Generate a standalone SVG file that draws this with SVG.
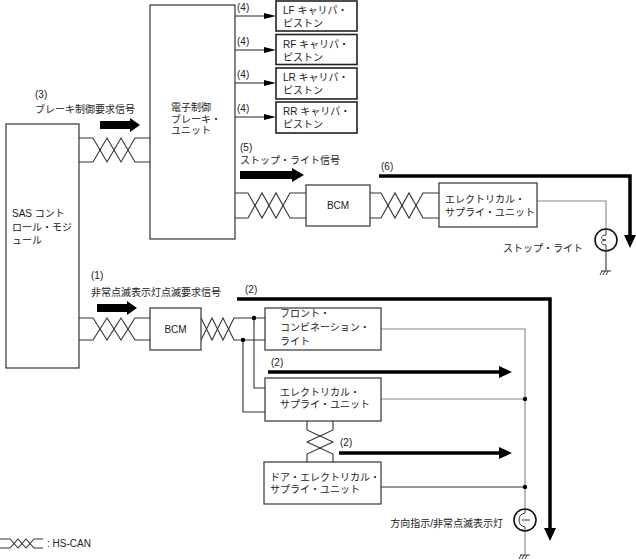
<svg xmlns="http://www.w3.org/2000/svg" width="636" height="560" viewBox="0 0 636 560">
<defs>
<style>
text{font-family:"Liberation Sans","Noto Sans CJK JP",sans-serif;font-size:10px;fill:#222}
.box{fill:#fff;stroke:#333;stroke-width:1.2}
.cal{fill:#fff;stroke:#222;stroke-width:1.6}
.w{fill:none;stroke:#333;stroke-width:1.1}
.g{fill:none;stroke:#888;stroke-width:1.1}
.thin{fill:none;stroke:#222;stroke-width:1.2}
.thick{fill:none;stroke:#000;stroke-width:3.5}
.fat{fill:#000}
.dot{fill:#000}
.mid{text-anchor:middle}
.end{text-anchor:end}
</style>
<marker id="ah" markerUnits="userSpaceOnUse" markerWidth="12" markerHeight="6" refX="6" refY="3" orient="auto">
<path d="M0,0 L12,3 L0,6 z" fill="#000"/>
</marker>
<marker id="bh" markerUnits="userSpaceOnUse" markerWidth="13" markerHeight="12" refX="6" refY="6" orient="auto">
<path d="M0,0 L13,6 L0,12 z" fill="#000"/>
</marker>
</defs>
<rect width="636" height="560" fill="#fff"/>

<g id="connectors">
<!-- HS-CAN pair SAS - EBU -->
<polyline class="w" points="79,138 93,138 107,162 121,138 135,162 150,162"/>
<polyline class="w" points="79,162 93,162 107,138 121,162 135,138 150,138"/>
<!-- EBU - BCM upper -->
<polyline class="w" points="235,193 248,193 262,218 276,193 290,218 306,218"/>
<polyline class="w" points="235,218 248,218 262,193 276,218 290,193 306,193"/>
<!-- BCM upper - ESU upper -->
<polyline class="w" points="370,193 381,193 395,218 409,193 423,218 439,218"/>
<polyline class="w" points="370,218 381,218 395,193 409,218 423,193 439,193"/>
<!-- SAS - BCM lower -->
<polyline class="w" points="79,318 93,318 107,340 121,318 135,340 150,340"/>
<polyline class="w" points="79,340 93,340 107,318 121,340 135,318 150,318"/>
<!-- BCM lower - FCL -->
<polyline class="w" points="201,318 212,340 223,318 234,340 265,340"/>
<polyline class="w" points="201,340 212,318 223,340 234,318 265,318"/>
<!-- branches -->
<polyline class="w" points="254,318 254,388 265,388"/>
<polyline class="w" points="243,340 243,412 265,412"/>
<circle class="dot" cx="254" cy="318" r="2.2"/>
<circle class="dot" cx="243" cy="340" r="2.2"/>
<!-- vertical pair ESU - Door ESU -->
<polyline class="w" points="307,421 307,430 333,442 307,454 307,462"/>
<polyline class="w" points="333,421 333,430 307,442 333,454 333,462"/>
<!-- EBU to calipers -->
<line class="thin" x1="235" y1="16" x2="270" y2="16" marker-end="url(#ah)"/>
<line class="thin" x1="235" y1="50" x2="270" y2="50" marker-end="url(#ah)"/>
<line class="thin" x1="235" y1="83" x2="270" y2="83" marker-end="url(#ah)"/>
<line class="thin" x1="235" y1="117" x2="270" y2="117" marker-end="url(#ah)"/>
<!-- stop light wiring -->
<polyline class="g" points="537,201 606,201 606,229"/>
<line class="w" x1="606" y1="251" x2="606" y2="271"/>
<!-- hazard wiring -->
<polyline class="g" points="381,329 525,329 525,509"/>
<line class="g" x1="381" y1="399" x2="525" y2="399"/>
<line class="w" x1="381" y1="487" x2="525" y2="487"/>
<line class="g" x1="525" y1="531" x2="525" y2="555"/>
<circle class="dot" cx="525" cy="399" r="2.2"/>
<circle class="dot" cx="525" cy="487" r="2.2"/>
<!-- thick signal arrows -->
<polyline class="thick" points="379,176 630,176 630,241" marker-end="url(#bh)"/>
<polyline class="thick" points="237,299 550,299 550,534" marker-end="url(#bh)"/>
<line class="thick" x1="268" y1="372" x2="505" y2="372" marker-end="url(#bh)"/>
<line class="thick" x1="339" y1="453" x2="505" y2="453" marker-end="url(#bh)"/>
<!-- fat arrows -->
<polygon class="fat" points="100,121 130,121 130,118 140,125 130,132 130,129 100,129"/>
<polygon class="fat" points="240,171 292,171 292,168 304,175 292,182 292,179 240,179"/>
<polygon class="fat" points="97,304 127,304 127,301 137,308 127,315 127,312 97,312"/>
</g>

<g id="sas">
<rect class="box" x="6" y="124" width="73" height="244"/>
<text x="12" y="216.5">SAS コント</text>
<text x="12" y="230.5">ロール・モジ</text>
<text x="12" y="243.5">ュール</text>
</g>

<g id="ebu">
<rect class="box" x="150" y="5" width="85" height="234"/>
<text x="171" y="110.5">電子制御</text>
<text x="171" y="122.5">ブレーキ・</text>
<text x="171" y="133.5">ユニット</text>
</g>

<g id="lf">
<rect class="cal" x="276" y="1" width="81" height="30"/>
<text x="283" y="14">LF キャリパ・</text>
<text x="283" y="27">ピストン</text>
</g>
<g id="rf">
<rect class="cal" x="276" y="34.5" width="81" height="30"/>
<text x="283" y="47.5">RF キャリパ・</text>
<text x="283" y="60.5">ピストン</text>
</g>
<g id="lr">
<rect class="cal" x="276" y="68" width="81" height="31"/>
<text x="283" y="81">LR キャリパ・</text>
<text x="283" y="94">ピストン</text>
</g>
<g id="rr">
<rect class="cal" x="276" y="102" width="81" height="31"/>
<text x="283" y="115">RR キャリパ・</text>
<text x="283" y="128">ピストン</text>
</g>

<g id="bcm-upper">
<rect class="box" x="306" y="185" width="64" height="41"/>
<text class="mid" x="338" y="209">BCM</text>
</g>

<g id="esu-upper">
<rect class="box" x="439" y="183" width="98" height="44"/>
<text x="445" y="202.5">エレクトリカル・</text>
<text x="445" y="215.5">サプライ・ユニット</text>
</g>

<g id="stop-light">
<circle cx="606" cy="240" r="11" fill="#fff" stroke="#111" stroke-width="1.6"/>
<path d="M606,229 L606,235 C600,235 600,240 606,240 C600,240 600,245 606,245 L606,251" fill="none" stroke="#333" stroke-width="1"/>
<path d="M601,271 L611,271 M602,271 L600,275 M605,271 L603,275 M608,271 L606,275" fill="none" stroke="#333" stroke-width="1"/>
<text x="503" y="251.5">ストップ・ライト</text>
</g>

<g id="bcm-lower">
<rect class="box" x="150" y="308" width="51" height="42"/>
<text class="mid" x="175.5" y="332.5">BCM</text>
</g>

<g id="fcl">
<rect class="box" x="265" y="308" width="116" height="42"/>
<text x="280" y="316.5">フロント・</text>
<text x="280" y="330.5">コンビネーション・</text>
<text x="280" y="344.5">ライト</text>
</g>

<g id="esu-lower">
<rect class="box" x="265" y="378" width="116" height="43"/>
<text x="280" y="396">エレクトリカル・</text>
<text x="280" y="408">サプライ・ユニット</text>
</g>

<g id="door-esu">
<rect class="box" x="264" y="462" width="117" height="42"/>
<text x="270" y="480.5">ドア・エレクトリカル・</text>
<text x="270" y="492.5">サプライ・ユニット</text>
</g>

<g id="hazard-lamp">
<circle cx="525" cy="520" r="11" fill="#fff" stroke="#111" stroke-width="1.6"/>
<path d="M525,509 L525,513 Q519,514 519,520 Q519,526 525,527 L525,531 M522,520 L530,520" fill="none" stroke="#333" stroke-width="1"/>
<path d="M520,555 L530,555 M521,555 L519,559 M524,555 L522,559 M527,555 L525,559" fill="none" stroke="#333" stroke-width="1"/>
<text class="end" x="503" y="526.5">方向指示/非常点滅表示灯</text>
</g>

<g id="labels">
<text x="237" y="11">(4)</text>
<text x="237" y="45">(4)</text>
<text x="237" y="78">(4)</text>
<text x="237" y="112">(4)</text>
<text x="35" y="97.5">(3)</text>
<text x="35" y="112.5">ブレーキ制御要求信号</text>
<text x="240" y="151">(5)</text>
<text x="240" y="164">ストップ・ライト信号</text>
<text x="381" y="170">(6)</text>
<text x="91" y="278.5">(1)</text>
<text x="91" y="295.5">非常点滅表示灯点滅要求信号</text>
<text x="245" y="292.5">(2)</text>
<text x="271" y="365.5">(2)</text>
<text x="340" y="445.5">(2)</text>
</g>

<g id="legend">
<polyline class="w" points="0,539 10,539 18,548 26,539 34,548 43,548"/>
<polyline class="w" points="0,548 10,548 18,539 26,548 34,539 43,539"/>
<text x="47" y="547">: HS-CAN</text>
</g>
</svg>
